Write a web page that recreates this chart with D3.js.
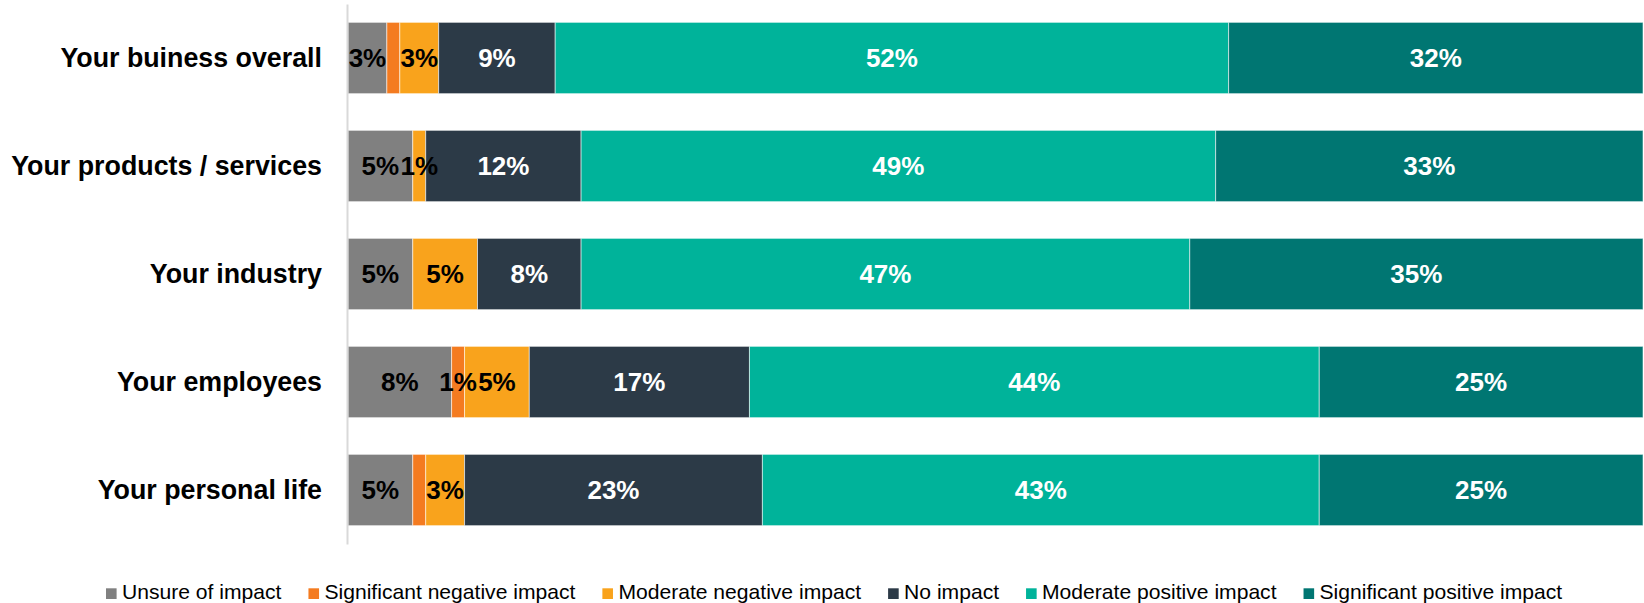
<!DOCTYPE html>
<html>
<head>
<meta charset="utf-8">
<script src="https://cdn.jsdelivr.net/npm/d3@7"></script>
<style>
  body { margin: 0; background: #fff; }
  svg { display: block; font-family: "Liberation Sans", Arial, sans-serif; }
</style>
</head>
<body>
<div id="container"></div>
<script>
/**
 * CONSTANTS AND GLOBALS
 * */
const width = 1644,
  height = 603,
  margin = { top: 4, bottom: 59, left: 348, right: 1 };

// rows, top to bottom
const categories = [
  "Your buiness overall",
  "Your products / services",
  "Your industry",
  "Your employees",
  "Your personal life"
];

const seriesNames = [
  "Unsure of impact",
  "Significant negative impact",
  "Moderate negative impact",
  "No impact",
  "Moderate positive impact",
  "Significant positive impact"
];

const seriesColors = ["#808080", "#f47b20", "#f9a31c", "#2c3a47", "#00b39a", "#007672"];
const labelColors = ["#000", "#000", "#000", "#fff", "#fff", "#fff"];

// percentages per series, one value per category
const unsure = [3, 5, 5, 8, 5];
const sigNegative = [1, 0, 0, 1, 1];
const modNegative = [3, 1, 5, 5, 3];
const noImpact = [9, 12, 8, 17, 23];
const modPositive = [52, 49, 47, 44, 43];
const sigPositive = [32, 33, 35, 25, 25];

// segments that carry no data label in the original: [category index, series index]
const hiddenLabels = [[0, 1], [4, 1]];

let svg;

/**
 * INITIALIZING FUNCTION
 * */
function init() {
  const seriesValues = [unsure, sigNegative, modNegative, noImpact, modPositive, sigPositive];

  const rows = categories.map((c, i) => {
    const row = { category: c };
    seriesNames.forEach((s, j) => row[s] = seriesValues[j][i]);
    return row;
  });

  const stacked = d3.stack().keys(seriesNames)(rows);

  const xScale = d3.scaleLinear()
    .domain([0, 100])
    .range([margin.left, width - margin.right]);

  const yScale = d3.scaleBand()
    .domain(categories)
    .range([margin.top, height - margin.bottom])
    .paddingInner(0.34)
    .paddingOuter(0.17);

  svg = d3.select("#container")
    .append("svg")
    .attr("width", width)
    .attr("height", height);

  // bars
  const layers = svg.selectAll("g.layer")
    .data(stacked)
    .join("g")
    .attr("class", "layer")
    .attr("fill", (d, i) => seriesColors[i]);

  layers.selectAll("rect")
    .data(d => d.filter(p => p[1] - p[0] > 0))
    .join("rect")
    .attr("x", d => xScale(d[0]))
    .attr("y", d => yScale(d.data.category))
    .attr("width", d => xScale(d[1]) - xScale(d[0]))
    .attr("height", yScale.bandwidth())
    .attr("stroke", "#fff")
    .attr("stroke-opacity", 0.55)
    .attr("stroke-width", 1);

  // data labels
  const isHidden = (ci, si) => hiddenLabels.some(h => h[0] === ci && h[1] === si);

  stacked.forEach((layer, si) => {
    svg.append("g")
      .selectAll("text")
      .data(layer.filter((p, ci) => p[1] - p[0] > 0 && !isHidden(ci, si)))
      .join("text")
      .attr("x", d => (xScale(d[0]) + xScale(d[1])) / 2)
      .attr("y", d => yScale(d.data.category) + yScale.bandwidth() / 2)
      .attr("dy", "0.35em")
      .attr("text-anchor", "middle")
      .attr("font-size", 26)
      .attr("font-weight", "bold")
      .attr("fill", labelColors[si])
      .text(d => (d[1] - d[0]) + "%");
  });

  // category axis
  const yAxis = d3.axisLeft(yScale).tickSize(0).tickPadding(25);
  const axisG = svg.append("g")
    .attr("transform", `translate(${margin.left - 1},0)`)
    .call(yAxis);
  axisG.select(".domain").attr("stroke", "#d9d9d9").attr("stroke-width", 2);
  axisG.selectAll(".tick text")
    .attr("font-size", 26.8)
    .attr("font-weight", "bold")
    .attr("font-family", "'Liberation Sans', Arial, sans-serif")
    .attr("fill", "#000")
    .attr("dy", "0.35em");

  // legend
  const legend = svg.append("g").attr("transform", "translate(106,599)");
  let lx = 0;
  seriesNames.forEach((name, i) => {
    const item = legend.append("g").attr("transform", `translate(${lx},0)`);
    item.append("rect")
      .attr("x", 0)
      .attr("y", -10.7)
      .attr("width", 10.6)
      .attr("height", 10.7)
      .attr("fill", seriesColors[i]);
    const t = item.append("text")
      .attr("x", 16)
      .attr("y", 0)
      .attr("font-size", 21.1)
      .attr("fill", "#000")
      .text(name);
    lx += 16 + t.node().getComputedTextLength() + 27;
  });
}

init();
</script>
</body>
</html>
